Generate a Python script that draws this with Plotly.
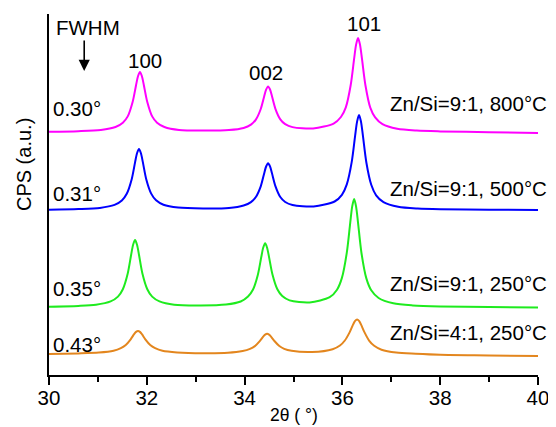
import plotly.graph_objects as go

# ---- data (arbitrary CPS units incl. stacking offset) ----
x_800 = [30.0, 30.6, 31.06, 31.36, 31.51, 31.61, 31.71, 31.78, 31.82, 31.86, 31.90, 31.94, 32.01, 32.11, 32.21, 32.36, 32.66,
         33.15, 33.68, 33.98, 34.13, 34.23, 34.33, 34.40, 34.44, 34.48, 34.52, 34.56, 34.63, 34.73, 34.83, 34.98,
         35.40, 35.82, 35.97, 36.07, 36.17, 36.24, 36.28, 36.32, 36.36, 36.40, 36.47, 36.57, 36.67, 36.82, 37.12, 37.52,
         38.0, 39.0, 40.0]
y_800 = [243.3, 243.8, 245.0, 248.0, 252.3, 258.6, 273.0, 289.8, 298.8, 303.0, 298.8, 289.8, 273.0, 258.6, 252.3, 248.0, 245.0,
         244.4, 244.9, 247.0, 250.4, 255.4, 266.0, 278.6, 285.4, 288.6, 285.5, 278.7, 266.2, 255.7, 250.9, 247.9,
         246.6, 251.4, 258.0, 267.7, 290.0, 316.3, 330.4, 337.0, 330.4, 316.3, 290.0, 267.4, 257.6, 250.8, 246.2, 244.4,
         243.6, 242.8, 242.0]

x_500 = [30.0, 30.6, 31.04, 31.34, 31.49, 31.59, 31.69, 31.76, 31.80, 31.84, 31.88, 31.92, 31.99, 32.09, 32.19, 32.34, 32.64,
         33.15, 33.68, 33.98, 34.13, 34.23, 34.33, 34.40, 34.44, 34.48, 34.52, 34.56, 34.63, 34.73, 34.83, 34.98,
         35.41, 35.84, 35.99, 36.09, 36.19, 36.26, 36.30, 36.34, 36.38, 36.42, 36.49, 36.59, 36.69, 36.84, 37.14, 37.54,
         38.0, 39.0, 40.0]
y_500 = [165.2, 165.9, 167.1, 170.1, 174.5, 181.2, 195.5, 212.6, 221.7, 226.0, 221.7, 212.6, 195.5, 181.4, 174.7, 170.3, 167.4,
         166.5, 167.0, 169.5, 172.9, 178.0, 188.7, 201.6, 208.5, 211.7, 208.6, 201.7, 188.9, 178.0, 173.0, 170.0,
         168.6, 173.5, 180.2, 190.6, 212.8, 239.1, 253.4, 260.0, 253.4, 239.1, 212.5, 190.2, 179.7, 172.9, 168.2, 166.4,
         165.7, 165.3, 165.0]

x_250 = [30.0, 30.6, 30.96, 31.26, 31.41, 31.51, 31.61, 31.68, 31.72, 31.76, 31.80, 31.84, 31.91, 32.01, 32.11, 32.26, 32.56,
         33.10, 33.62, 33.92, 34.07, 34.17, 34.27, 34.34, 34.38, 34.42, 34.46, 34.50, 34.57, 34.67, 34.77, 34.92,
         35.33, 35.74, 35.89, 35.99, 36.09, 36.16, 36.20, 36.24, 36.28, 36.32, 36.39, 36.49, 36.59, 36.74, 37.04, 37.44,
         38.0, 39.0, 40.0]
y_250 = [68.3, 69.1, 70.3, 73.6, 78.4, 85.8, 101.5, 120.3, 130.3, 135.0, 130.3, 120.3, 101.5, 85.8, 78.4, 73.6, 70.3,
         69.6, 70.5, 73.5, 78.5, 85.2, 100.1, 117.7, 127.2, 131.7, 127.3, 117.9, 100.5, 85.7, 78.9, 74.6,
         72.6, 77.8, 85.3, 97.1, 122.4, 152.2, 168.4, 176.0, 168.4, 152.2, 122.0, 96.6, 84.7, 77.0, 71.7, 69.6,
         68.6, 68.0, 67.5]

x_41 = [30.0, 30.6, 31.02, 31.32, 31.47, 31.57, 31.67, 31.74, 31.78, 31.82, 31.86, 31.90, 31.97, 32.07, 32.17, 32.32, 32.62,
        33.14, 33.66, 33.96, 34.11, 34.21, 34.31, 34.38, 34.42, 34.46, 34.50, 34.54, 34.61, 34.71, 34.81, 34.96,
        35.38, 35.80, 35.95, 36.05, 36.15, 36.22, 36.26, 36.30, 36.34, 36.38, 36.45, 36.55, 36.65, 36.80, 37.10, 37.50,
        38.0, 39.0, 40.0]
y_41 = [21.0, 21.6, 22.4, 24.2, 26.8, 30.0, 35.7, 40.8, 43.1, 44.0, 43.1, 40.8, 35.7, 30.0, 26.8, 24.2, 22.6,
        21.8, 22.2, 23.9, 26.1, 28.9, 33.9, 38.4, 40.4, 41.2, 40.4, 38.4, 34.0, 29.0, 26.2, 24.2,
        23.0, 25.8, 29.5, 34.5, 42.9, 50.6, 54.1, 55.5, 54.1, 50.6, 42.9, 34.2, 29.2, 25.3, 22.4, 21.2,
        20.2, 19.6, 19.0]

series_names = ["Zn/Si=9:1, 800°C", "Zn/Si=9:1, 500°C", "Zn/Si=9:1, 250°C", "Zn/Si=4:1, 250°C"]
fwhm_labels = ["0.30°", "0.31°", "0.35°", "0.43°"]
peak_labels = ["100", "002", "101"]
x_ticks = [30, 32, 34, 36, 38, 40]

# ---- styling ----
colors = ["#FF00FF", "#0000FF", "#1EEB1E", "#E3861E"]
FONT = "Arial, Liberation Sans, sans-serif"
FS = 20.5

fig = go.Figure()
for xs, ys, c, n in zip([x_800, x_500, x_250, x_41], [y_800, y_500, y_250, y_41], colors, series_names):
    fig.add_trace(go.Scatter(x=xs, y=ys, mode="lines", name=n,
                             line=dict(color=c, width=2, shape="spline", smoothing=0.8)))

ann = []
series_label_y = [272, 187, 92, 43]
for n, yy in zip(series_names, series_label_y):
    ann.append(dict(x=1.022, xref="paper", y=yy, yref="y", text=n, showarrow=False,
                    xanchor="right", yanchor="middle", font=dict(size=FS, color="black", family=FONT)))
fwhm_y = [267, 182, 87, 31]
for t, yy in zip(fwhm_labels, fwhm_y):
    ann.append(dict(x=30.04, xref="x", y=yy, yref="y", text=t, showarrow=False,
                    xanchor="left", yanchor="middle", font=dict(size=FS, color="black", family=FONT)))
peak_pos = [(31.96, 315), (34.44, 303), (36.44, 352)]
for t, (px, py) in zip(peak_labels, peak_pos):
    ann.append(dict(x=px, xref="x", y=py, yref="y", text=t, showarrow=False,
                    xanchor="center", yanchor="middle", font=dict(size=FS, color="black", family=FONT)))
ann.append(dict(x=30.1, xref="x", y=348, yref="y", text="FWHM", showarrow=False,
                xanchor="left", yanchor="middle", font=dict(size=FS, color="black", family=FONT)))
ann.append(dict(x=30.72, xref="x", y=304, yref="y", ax=0, ay=-32, text="", showarrow=True,
                arrowhead=2, arrowsize=1.4, arrowwidth=1.6, arrowcolor="black"))
ann.append(dict(x=0.5, xref="paper", y=-0.111, yref="paper", text="2θ ( °)", showarrow=False,
                xanchor="center", yanchor="middle", borderpad=0,
                font=dict(size=17.5, color="black", family=FONT)))
ann.append(dict(x=-0.051, xref="paper", y=210, yref="y", text="CPS (a.u.)", showarrow=False,
                textangle=-90, xanchor="center", yanchor="middle", font=dict(size=20, color="black", family=FONT)))

# page body has an 8px margin, so the figure is sized/offset to land the plot where the reference has it
fig.update_layout(
    width=548, height=419,
    margin=dict(l=41, r=18, t=6, b=52),
    paper_bgcolor="white", plot_bgcolor="white",
    showlegend=False,
    annotations=ann,
    font=dict(family=FONT, color="black", size=FS),
)
fig.update_xaxes(range=[30, 40], tickvals=x_ticks, ticktext=[str(v) for v in x_ticks],
                 showgrid=False, zeroline=False, showline=True, linecolor="black", linewidth=1.5,
                 ticks="outside", ticklen=8, tickwidth=1.5, tickcolor="black", ticklabelstandoff=-4,
                 tickfont=dict(size=FS, family=FONT, color="black"),
                 minor=dict(tickvals=[31, 33, 35, 37, 39], ticks="outside", ticklen=5, tickwidth=1.5, tickcolor="black"))
fig.update_yaxes(range=[0, 361], showgrid=False, zeroline=False, showline=True, linecolor="black", linewidth=1.5,
                 showticklabels=False, ticks="")

fig.write_html("out.html")
